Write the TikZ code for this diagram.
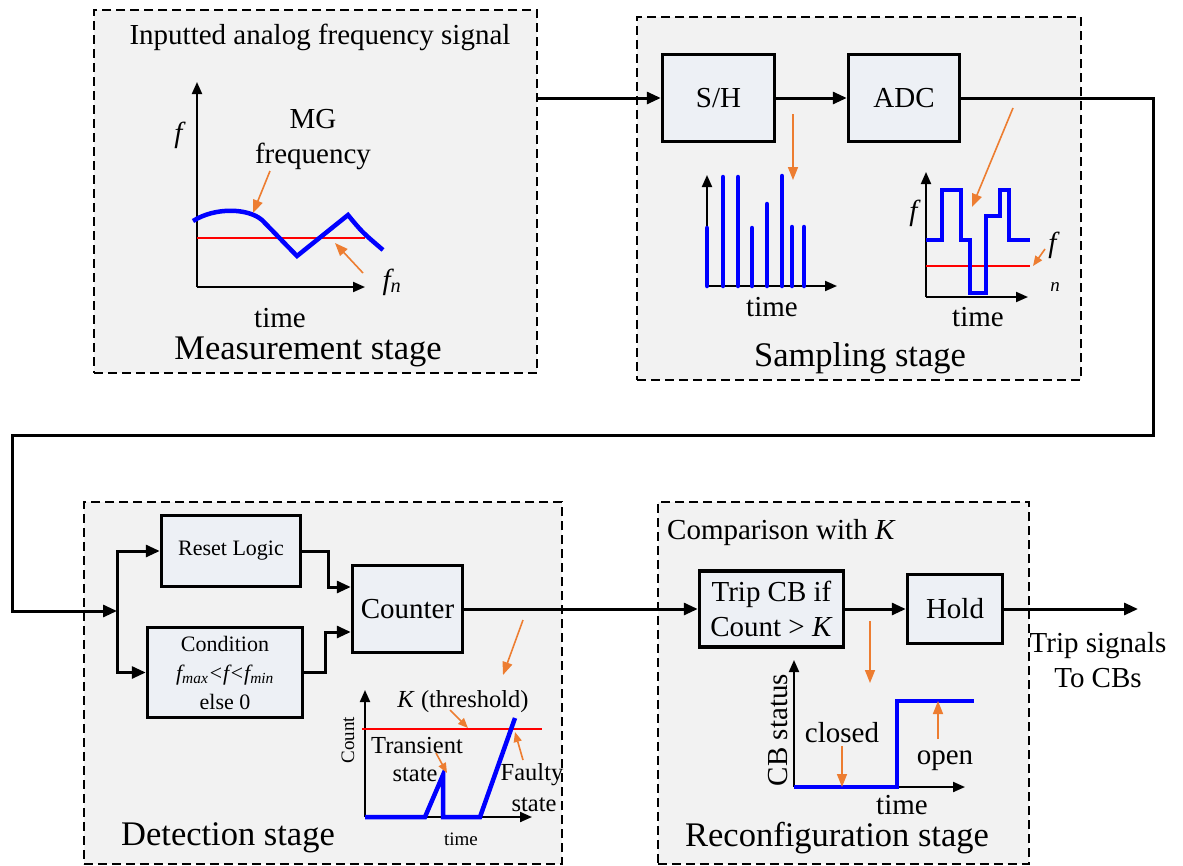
\documentclass[tikz,border=0pt]{standalone}
\usepackage{fontspec}
\setmainfont{Liberation Serif}
\usepackage{tikz}
\usetikzlibrary{positioning, arrows.meta, calc}
\definecolor{stagegray}{HTML}{F2F2F2}
\definecolor{blockfill}{HTML}{EDF0F5}
\definecolor{sigorange}{HTML}{ED7D31}

\begin{document}
\begin{tikzpicture}[x=1pt, y=-1pt, line join=miter]
	\tikzstyle{stage} = [draw, dash pattern=on 9pt off 5pt, line width=1.3pt, fill=stagegray, inner sep=0pt];
	\tikzstyle{block} = [draw, line width=3.5pt, fill=blockfill, inner sep=0pt, align=center, font=\fontsize{29}{35}\selectfont];
	\tikzstyle{conn} = [line width=3pt, -{Triangle[length=14pt, width=12pt]}];
	\tikzstyle{plotaxis} = [line width=2pt, -{Triangle[length=12pt, width=10pt]}];
	\tikzstyle{trace} = [blue, line width=4.5pt];
	\tikzstyle{reftrace} = [red, line width=1.5pt];
	\tikzstyle{pointer} = [sigorange, line width=1.6pt, -{Triangle[length=13pt, width=10pt]}];
	\tikzstyle{smallpointer} = [sigorange, line width=1.6pt, -{Triangle[length=10pt, width=8pt]}];
	\tikzstyle{lbl} = [inner sep=0pt, align=center, font=\fontsize{29}{35}\selectfont];
	\tikzstyle{stagelbl} = [inner sep=0pt, font=\fontsize{34.5}{40}\selectfont];
	\tikzstyle{smalllbl} = [inner sep=0pt, align=center, font=\fontsize{22}{29}\selectfont];
	\tikzstyle{plotlbl} = [inner sep=0pt, align=center, font=\fontsize{24.5}{30}\selectfont];
	\tikzstyle{tinylbl} = [inner sep=0pt, font=\fontsize{19}{22}\selectfont];
	
	\useasboundingbox (0,0) rectangle (1183,865);
	
	% stage frames
	\node[stage, minimum width=443pt, minimum height=363pt] (meas) at (315.5,191.5) {};
	\node[stage, minimum width=444pt, minimum height=363pt] (samp) at (859,198.5) {};
	\node[stage, minimum width=478pt, minimum height=362pt] (detect) at (323,683) {};
	\node[stage, minimum width=371pt, minimum height=362pt] (reconf) at (843.5,683) {};
	
	% blocks
	\node[block, minimum width=112pt, minimum height=87pt] (sh) at (718.5,98) {S/H};
	\node[block, minimum width=111pt, minimum height=87pt] (adc) at (904,98) {ADC};
	\node[block, minimum width=139pt, minimum height=71pt, font=\fontsize{22}{29}\selectfont] (reset) at (231,551) {Reset Logic};
	\node[block, minimum width=155pt, minimum height=90pt, font=\fontsize{22}{29}\selectfont] (cond) at (225,672.5) {Condition\\\textit{f\textsubscript{max}<f<f\textsubscript{min}}\\else 0};
	\node[block, minimum width=110pt, minimum height=87pt] (counter) at (407.5,609) {Counter};
	\node[block, minimum width=144pt, minimum height=76pt] (trip) at (771.5,609) {Trip CB if\\Count > \textit{K}};
	\node[block, minimum width=95pt, minimum height=69pt] (hold) at (955,609) {Hold};
	
	% connectors
	\coordinate (bendR) at (1153,435);
	\coordinate (bendL) at (12,611);
	\coordinate (split) at (117,611);
	\coordinate (out) at (1138,609);
	\draw[conn] (meas.east |- sh.west) -- (sh.west);
	\draw[conn] (sh) -- (adc);
	\draw[conn] (adc.east) -| (bendR) -| (bendL) -- (split);
	\draw[conn] (split) |- (reset.west);
	\draw[conn] (split) |- (cond.west);
	\draw[conn] (reset.east) -- ++(26,0) |- ([yshift=22pt]counter.west);
	\draw[conn] (cond.east) -- ++(21,0) |- ([yshift=-23pt]counter.west);
	\draw[conn] (counter) -- (trip);
	\draw[conn] (trip) -- (hold);
	\draw[conn] (hold) -- (out);
	\node[lbl] (tosig) at (1098,660) {Trip signals\\To CBs};
	
	% measurement stage
	\node[lbl] (meastitle) at (320,37) {Inputted analog frequency signal};
	\draw[plotaxis] (197,287) -- (197,82);
	\draw[plotaxis] (197,287) -- (365,287);
	\draw[reftrace] (197,238) -- (365,238);
	\draw[trace] (193,221) .. controls (215,207) and (248,208) .. (262,220) -- (297,256) -- (348,215) .. controls (362,232) .. (383,250);
	\node[lbl] (mgf) at (313,140) {MG\\frequency};
	\node[lbl] (fm) at (180,135) {\textit{f}};
	\node[lbl] (fnm) at (392,282) {\textit{f\textsubscript{n}}};
	\node[lbl] (tm) at (280,318) {time};
	\node[stagelbl] (measname) at (308,352) {Measurement stage};
	\draw[pointer] (270,171) -- (253,213);
	\draw[pointer] (363,273) -- (335,243);
	
	% sampling stage
	\draw[plotaxis] (707,286) -- (707,175);
	\draw[plotaxis] (707,286) -- (837,286);
	\foreach \x/\t in {707/228, 723/177, 738/177, 752/228, 767/204, 782/176, 792/227, 804/227}
	{
		\draw[trace, line cap=round] (\x,286) -- (\x,\t);
	}
	\node[lbl] (ts1) at (772,307) {time};
	\draw[pointer] (793,114) -- (793,180);
	
	\draw[plotaxis] (926,297) -- (926,172);
	\draw[plotaxis] (926,297) -- (1028,297);
	\draw[reftrace] (926,266) -- (1030,266);
	\draw[trace] (926,240) -- (942,240) -- (942,190) -- (961,190) -- (961,240) -- (970,240) -- (970,293) -- (986,293) -- (986,216) -- (1000,216) -- (1000,190) -- (1009,190) -- (1009,240) -- (1030,240);
	\node[lbl] (fs1) at (915,213) {\textit{f}};
	\node[lbl] (fs2) at (1054,245) {\textit{f}};
	\node[tinylbl] (ns2) at (1055,287) {\textit{n}};
	\node[lbl] (ts2) at (978,317) {time};
	\draw[pointer] (1013,108) -- (972,207);
	\draw[smallpointer] (1045,249) -- (1033,266);
	\node[stagelbl] (sampname) at (860,358) {Sampling stage};
	
	% detection stage
	\draw[plotaxis] (365,817) -- (365,690);
	\draw[plotaxis] (365,817) -- (532,817);
	\draw[reftrace] (362,729) -- (542,729);
	\draw[trace] (365,817) -- (425,817) -- (443,775) -- (443,817) -- (480,817) -- (515,718);
	\node[tinylbl, rotate=90] (cnt) at (348,740) {Count};
	\node[plotlbl] (thr) at (463,702) {\textit{K} (threshold)};
	\node[plotlbl] (trans) at (417,745) {Transient};
	\node[plotlbl] (trans2) at (415,775) {state};
	\node[plotlbl] (faulty) at (532,775) {Faulty};
	\node[plotlbl] (faulty2) at (534,805) {state};
	\node[tinylbl] (td) at (461,839) {time};
	\draw[pointer] (523,620) -- (503,675);
	\draw[smallpointer] (450,710) -- (468,728);
	\draw[smallpointer] (436,753) -- (447,773);
	\draw[smallpointer] (523,760) -- (515,732);
	\node[stagelbl] (detname) at (228,838) {Detection stage};
	
	% reconfiguration stage
	\node[lbl, anchor=west] (cmp) at (667,533) {Comparison with \textit{K}};
	\draw[plotaxis] (794,787) -- (794,660);
	\draw[plotaxis] (794,787) -- (965,787);
	\draw[trace] (794,787) -- (897,787) -- (897,701) -- (974,701);
	\node[lbl, rotate=90] (cbs) at (778,730) {CB status};
	\node[lbl] (closed) at (842,733) {closed};
	\node[lbl] (open) at (945,761) {open};
	\node[lbl] (tr) at (902,805) {time};
	\draw[pointer] (870,621) -- (870,683);
	\draw[pointer] (842,746) -- (842,787);
	\draw[pointer] (938,739) -- (938,701);
	\node[stagelbl] (recname) at (837,838) {Reconfiguration stage};
	
\end{tikzpicture}
\end{document}
